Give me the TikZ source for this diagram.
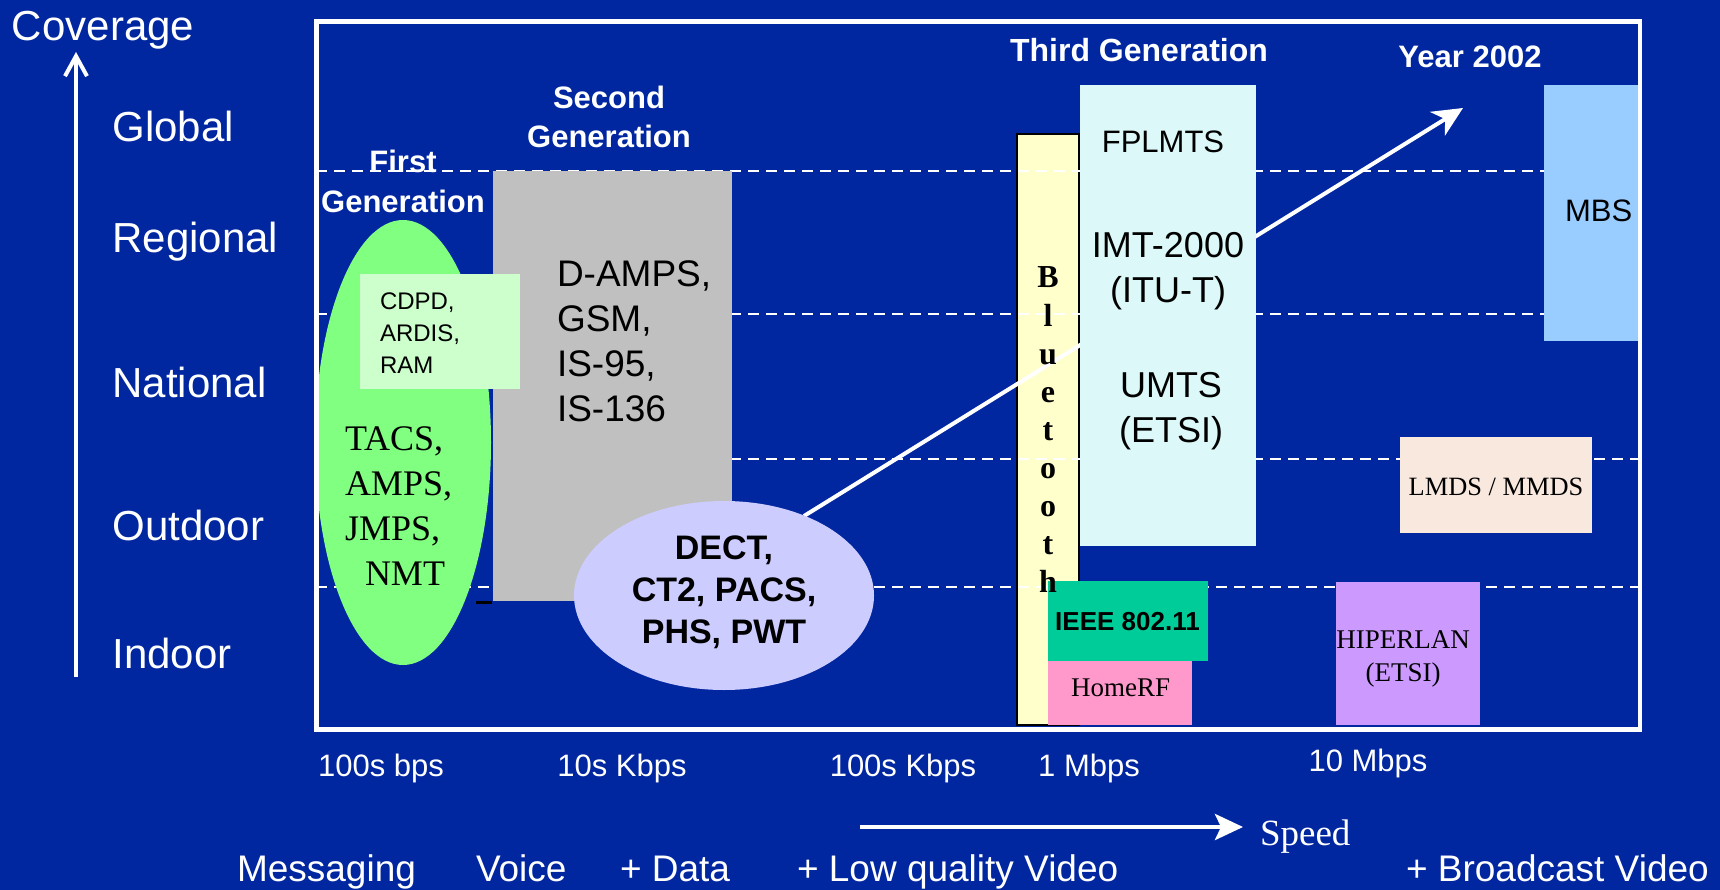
\documentclass[tikz,border=0pt]{standalone}
\usepackage{fontspec}
\setmainfont{Liberation Sans}
\newfontfamily\tnr{Liberation Serif}
\usetikzlibrary{arrows.meta,shapes.geometric}
\definecolor{bgblue}{RGB}{0,38,160}
\definecolor{gengray}{RGB}{192,192,192}
\definecolor{gengreen}{RGB}{128,255,128}
\definecolor{cdpdcol}{RGB}{204,255,204}
\definecolor{dectcol}{RGB}{204,204,255}
\definecolor{btcol}{RGB}{255,255,204}
\definecolor{thirdcol}{RGB}{220,248,248}
\definecolor{mbscol}{RGB}{153,204,255}
\definecolor{lmdscol}{RGB}{248,232,222}
\definecolor{ieeecol}{RGB}{0,204,153}
\definecolor{homecol}{RGB}{255,153,204}
\definecolor{hipcol}{RGB}{204,153,255}
\newcommand{\fsz}[2]{\fontsize{#1pt}{#2pt}\selectfont}
\newcommand{\mlines}[2]{\begin{tabular}[t]{@{}#1@{}}#2\end{tabular}}
\begin{document}
\begin{tikzpicture}[x=1pt,y=-1pt,
  box/.style={anchor=north west, inner sep=0pt, outer sep=0pt, draw=none},
  oval/.style={ellipse, inner sep=0pt, outer sep=0pt, draw=none},
  wt/.style={text=white, inner sep=0pt, outer sep=0pt},
  bk/.style={text=black, inner sep=0pt, outer sep=0pt},
  grid/.style={white, line width=2pt, dash pattern=on 11pt off 7pt},
  ]
\fill[bgblue] (0,0) rectangle (1720,890);
\useasboundingbox (0,0) rectangle (1720,890);

% Bluetooth column (below the dashed lines)
\node[box, fill=btcol, draw=black, line width=1.2pt, minimum width=62pt, minimum height=591pt] (bt) at (1017,134) {};

% coverage grid
\draw[grid] (316,171) -- (1638,171);
\draw[grid] (316,314) -- (1638,314);
\draw[grid] (316,459) -- (1638,459);
\draw[grid] (316,587) -- (1638,587);

% trend arrow (passes under the 3G box)
\coordinate (tr0) at (804,516);
\coordinate (tr1) at (1463,108);
\draw[white, line width=4pt, -{Stealth[length=30pt,width=28pt,inset=9pt]}] (tr0) -- (tr1);

% boxes
\node[box, fill=gengray, minimum width=239.3pt, minimum height=429.7pt] (g2) at (492.7,171) {};
\node[oval, fill=gengreen, minimum width=176pt, minimum height=445pt] (g1) at (403,442.5) {};
\node[box, fill=cdpdcol, minimum width=160pt, minimum height=115pt] (cdpd) at (360,274) {};
\node[oval, fill=dectcol, minimum width=300pt, minimum height=189pt] (dect) at (724,595.5) {};
\node[box, fill=thirdcol, minimum width=176pt, minimum height=461pt] (g3) at (1080,85) {};
\node[box, fill=mbscol, minimum width=96pt, minimum height=255.7pt] (mbs) at (1544,85) {};
\node[box, fill=lmdscol, minimum width=192pt, minimum height=96pt] (lmds) at (1400,436.7) {};
\node[box, fill=ieeecol, minimum width=159.8pt, minimum height=79.7pt] (ieee) at (1048,581) {};
\node[box, fill=homecol, minimum width=144pt, minimum height=64.3pt] (homerf) at (1048,660.7) {};
\node[box, fill=hipcol, minimum width=144pt, minimum height=143pt] (hiper) at (1336,582) {};
\draw[black, line width=2.7pt] (476,602.7) -- (491.7,602.7);

% frame
\draw[white, line width=4.5pt] (316.5,21.7) rectangle (1640,729.3);

% coverage axis
\coordinate (ya0) at (76,677);
\coordinate (ya1) at (76,52);
\draw[white, line width=4pt, -{Straight Barb[length=20pt,width=22pt]}] (ya0) -- (ya1);
\node[wt, anchor=base west, font=\fsz{42}{50}] (tcov) at (12,41) {Coverage};
\node[wt, anchor=base west, font=\fsz{42}{50}] (tglob) at (112.5,141.7) {Global};
\node[wt, anchor=base west, font=\fsz{42}{50}] (treg) at (112.5,253) {Regional};
\node[wt, anchor=base west, font=\fsz{42}{50}] (tnat) at (112.5,397) {National};
\node[wt, anchor=base west, font=\fsz{42}{50}] (tout) at (112.5,540) {Outdoor};
\node[wt, anchor=base west, font=\fsz{42}{50}] (tind) at (112.5,668) {Indoor};

% generation headings
\node[wt, anchor=base, font=\bfseries\fsz{31}{40}] (h1) at (403,173) {\mlines{c}{First\\Generation}};
\node[wt, anchor=base, font=\bfseries\fsz{31}{39}] (h2) at (609,109) {\mlines{c}{Second\\Generation}};
\node[wt, anchor=base, font=\bfseries\fsz{32}{40}] (h3) at (1139,62) {Third Generation};
\node[wt, anchor=base, font=\bfseries\fsz{31}{40}] (h4) at (1470,68) {Year 2002};

% box texts
\node[bk, anchor=base west, font=\fsz{24}{31.5}] (tcdpd) at (380,310) {\mlines{l}{CDPD,\\ARDIS,\\RAM}};
\node[bk, anchor=base west, font=\tnr\fsz{36}{45}] (ttacs) at (345,450) {\mlines{l}{TACS,\\AMPS,\\JMPS,\\\hspace{20pt}NMT}};
\node[bk, anchor=base west, font=\fsz{37}{45}] (tdamps) at (557,287) {\mlines{l}{D-AMPS,\\GSM,\\IS-95,\\IS-136}};
\node[bk, anchor=base, font=\bfseries\fsz{34}{42}] (tdect) at (724,559) {\mlines{c}{DECT,\\CT2, PACS,\\PHS, PWT}};
\node[bk, anchor=base, font=\tnr\bfseries\fsz{32}{38.1}] (tbt) at (1048,288) {\mlines{c}{B\\l\\u\\e\\t\\o\\o\\t\\h}};
\node[bk, anchor=base, font=\fsz{31}{40}] (tfpl) at (1163,153) {FPLMTS};
\node[bk, anchor=base, font=\fsz{36}{45}] (timt) at (1168,258) {\mlines{c}{IMT-2000\\(ITU-T)}};
\node[bk, anchor=base, font=\fsz{36}{45}] (tumts) at (1171,397) {\mlines{c}{UMTS\\(ETSI)}};
\node[bk, anchor=base, font=\fsz{31}{40}] (tmbs) at (1598.6,222) {MBS};
\node[bk, anchor=base, font=\tnr\fsz{26.4}{32}] (tlmds) at (1496,495) {LMDS / MMDS};
\node[bk, anchor=base, font=\bfseries\fsz{26}{32}] (tieee) at (1127.5,630.7) {IEEE 802.11};
\node[bk, anchor=base, font=\tnr\fsz{27}{33}] (thome) at (1120.6,696.7) {HomeRF};
\node[bk, anchor=base, font=\tnr\fsz{27}{33}] (thip) at (1403,648) {\mlines{c}{HIPERLAN\\(ETSI)}};

% speed axis labels
\node[wt, anchor=base, font=\fsz{31}{40}] (s1) at (381,776.7) {100s bps};
\node[wt, anchor=base, font=\fsz{31}{40}] (s2) at (622,776.7) {10s Kbps};
\node[wt, anchor=base, font=\fsz{31}{40}] (s3) at (903,776.7) {100s Kbps};
\node[wt, anchor=base, font=\fsz{31}{40}] (s4) at (1089,776.7) {1 Mbps};
\node[wt, anchor=base, font=\fsz{31}{40}] (s5) at (1368,771.7) {10 Mbps};

% speed arrow
\coordinate (sp0) at (860,827);
\coordinate (sp1) at (1243,827);
\draw[white, line width=4.5pt, -{Stealth[length=28pt,width=26pt,inset=6pt]}] (sp0) -- (sp1);
\node[wt, anchor=base west, font=\tnr\fsz{37}{45}] (tspeed) at (1260,845) {Speed};

% services
\node[wt, anchor=base west, font=\fsz{37}{45}] (v1) at (237,881) {Messaging};
\node[wt, anchor=base west, font=\fsz{37}{45}] (v2) at (476,881) {Voice};
\node[wt, anchor=base west, font=\fsz{37}{45}] (v3) at (620,881) {+ Data};
\node[wt, anchor=base west, font=\fsz{37}{45}] (v4) at (797,881) {+ Low quality Video};
\node[wt, anchor=base west, font=\fsz{37}{45}] (v5) at (1406,881) {+ Broadcast Video};
\end{tikzpicture}
\end{document}
